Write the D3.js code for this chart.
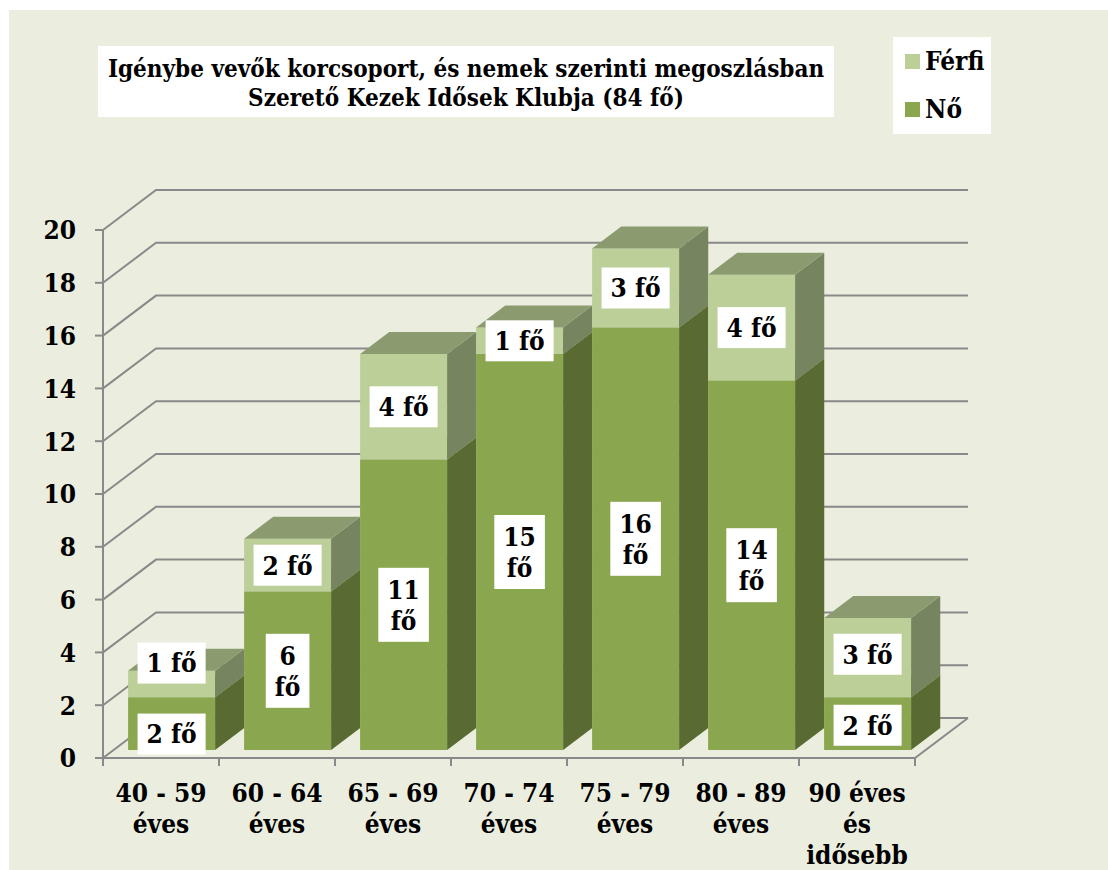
<!DOCTYPE html>
<html>
<head>
<meta charset="utf-8">
<script src="https://cdn.jsdelivr.net/npm/d3@7"></script>
<style>
  body { margin: 0; background: #fff; }
  text { font-family: "DejaVu Serif Condensed", "DejaVu Serif", serif; font-stretch: condensed; font-weight: bold; fill: #000; }
</style>
</head>
<body>
<script>
// values
var categories = ["40 - 59 éves", "60 - 64 éves", "65 - 69 éves", "70 - 74 éves", "75 - 79 éves", "80 - 89 éves", "90 éves és idősebb"];
var categoryLines = [["40 - 59", "éves"], ["60 - 64", "éves"], ["65 - 69", "éves"], ["70 - 74", "éves"], ["75 - 79", "éves"], ["80 - 89", "éves"], ["90 éves", "és", "idősebb"]];
var noValues = [2, 6, 11, 15, 16, 14, 2];
var ferfiValues = [1, 2, 4, 1, 3, 4, 3];
var yTicks = [0, 2, 4, 6, 8, 10, 12, 14, 16, 18, 20];
var seriesNames = ["Férfi", "Nő"];
var titleLines = ["Igénybe vevők korcsoport, és nemek szerinti megoszlásban", "Szerető Kezek Idősek Klubja (84 fő)"];

var width = 1108, height = 870;
var depthX = 53, depthY = -40;       // wall depth offset
var barFront = 0.2, barBack = 0.75;  // where bars sit inside the depth

var colors = {
  no:    { front: "#8aa64e", side: "#596b33", top: "#7f9a48" },
  ferfi: { front: "#bccf98", side: "#768560", top: "#8c9a70" }
};

var svg = d3.select("body").append("svg")
    .attr("width", width)
    .attr("height", height);

svg.append("rect")
    .attr("x", 9).attr("y", 10)
    .attr("width", width - 9).attr("height", height - 10)
    .attr("fill", "#ebeedf");

var x = d3.scaleBand().domain(categories).range([103, 915]).padding(0);
var y = d3.scaleLinear().domain([0, 20]).range([758, 230]);
var barW = x.bandwidth() * 0.75;

function proj(px, v, d) {
  return [px + depthX * d, y(v) + depthY * d];
}

var g = svg.append("g");

// walls / gridlines
var x0 = x.range()[0], x1 = x.range()[1];
g.selectAll(".grid")
    .data(yTicks)
  .enter().append("path")
    .attr("class", "grid")
    .attr("fill", "none")
    .attr("stroke", "#898989")
    .attr("stroke-width", 2)
    .attr("d", function(v) {
      var a = proj(x0, v, 0), b = proj(x0, v, 1), c = proj(x1, v, 1);
      return "M" + a + "L" + b + "L" + c;
    });

// floor: front edge and right edge
g.append("path")
    .attr("fill", "none")
    .attr("stroke", "#898989")
    .attr("stroke-width", 2)
    .attr("d", "M" + proj(x0, 0, 0) + "L" + proj(x1, 0, 0) + "L" + proj(x1, 0, 1));

// y axis
g.append("line")
    .attr("x1", x0).attr("x2", x0)
    .attr("y1", y(20)).attr("y2", y(0) + 8)
    .attr("stroke", "#898989").attr("stroke-width", 2);

g.selectAll(".ytick")
    .data(yTicks)
  .enter().append("line")
    .attr("x1", x0 - 8).attr("x2", x0)
    .attr("y1", function(v) { return y(v); })
    .attr("y2", function(v) { return y(v); })
    .attr("stroke", "#898989").attr("stroke-width", 2);

g.selectAll(".ylabel")
    .data(yTicks)
  .enter().append("text")
    .attr("x", 76)
    .attr("y", function(v) { return y(v); })
    .attr("dy", "0.36em")
    .attr("text-anchor", "end")
    .style("font-size", "26px")
    .text(function(v) { return v; });

// x ticks
g.selectAll(".xtick")
    .data(categories.concat(["end"]))
  .enter().append("line")
    .attr("x1", function(d, i) { return x0 + i * x.step(); })
    .attr("x2", function(d, i) { return x0 + i * x.step(); })
    .attr("y1", y(0)).attr("y2", y(0) + 8)
    .attr("stroke", "#898989").attr("stroke-width", 2);

var xl = g.selectAll(".xlabel")
    .data(categories)
  .enter().append("text")
    .attr("text-anchor", "middle")
    .style("font-size", "26px")
    .attr("transform", function(d) { return "translate(" + (x(d) + x.bandwidth() / 2) + ",802)"; });
xl.selectAll("tspan")
    .data(function(d, i) { return categoryLines[i]; })
  .enter().append("tspan")
    .attr("x", 0)
    .attr("y", function(d, i) { return i * 31; })
    .text(function(d) { return d; });

// bars
function box(px, w, v0, v1, c) {
  var f0 = proj(px, v0, barFront), f1 = proj(px + w, v0, barFront),
      f2 = proj(px + w, v1, barFront), f3 = proj(px, v1, barFront),
      b1 = proj(px + w, v0, barBack), b2 = proj(px + w, v1, barBack),
      b3 = proj(px, v1, barBack);
  var bg = g.append("g");
  bg.append("path").attr("fill", c.front).attr("d", "M" + [f0, f1, f2, f3].join("L") + "Z");
  bg.append("path").attr("fill", c.side).attr("d", "M" + [f1, b1, b2, f2].join("L") + "Z");
  bg.append("path").attr("fill", c.top).attr("d", "M" + [f3, f2, b2, b3].join("L") + "Z");
}

var labels = [];
categories.forEach(function(cat, i) {
  var px = x(cat) + (x.bandwidth() - barW) / 2;
  var n = noValues[i], f = ferfiValues[i];
  box(px, barW, 0, n, colors.no);
  box(px, barW, n, n + f, colors.ferfi);
  var cx = px + barW / 2 + depthX * barFront;
  labels.push({ cx: cx, cy: (y(0) + y(n)) / 2 + depthY * barFront, v: n, h: y(0) - y(n), bar: i, s: "no" });
  labels.push({ cx: cx, cy: (y(n) + y(n + f)) / 2 + depthY * barFront, v: f, h: y(n) - y(n + f), bar: i, s: "ferfi" });
});

// label sizes
labels.forEach(function(l) {
  l.lines = l.h > 120 ? [l.v, "fő"] : [l.v + " fő"];
  l.bh = l.lines.length === 1 ? 41 : 74;
});

// push apart labels of the same bar that come too close
d3.range(categories.length).forEach(function(i) {
  var a = labels[i * 2], b = labels[i * 2 + 1];
  var gap = (a.cy - a.bh / 2) - (b.cy + b.bh / 2);
  if (gap < 30) {
    var need = 30 - gap;
    b.cy -= need * 2 / 3;
    a.cy += need / 3;
  }
});

labels.forEach(function(l) {
  var lg = g.append("g").attr("transform", "translate(" + l.cx + "," + l.cy + ")");
  var rect = lg.append("rect").attr("fill", "#fff");
  var t = lg.append("text").attr("text-anchor", "middle").style("font-size", "26px");
  var lh = 31;
  t.selectAll("tspan")
      .data(l.lines)
    .enter().append("tspan")
      .attr("x", 0)
      .attr("y", function(d, k) { return (k - (l.lines.length - 1) / 2) * lh; })
      .attr("dy", "0.36em")
      .text(function(d) { return d; });
  var w = d3.max(t.selectAll("tspan").nodes(), function(n) { return n.getComputedTextLength(); }) + 18;
  rect.attr("x", -w / 2).attr("y", -l.bh / 2).attr("width", w).attr("height", l.bh);
});

// title
svg.append("rect")
    .attr("x", 98).attr("y", 46).attr("width", 736).attr("height", 71)
    .attr("fill", "#fff");
svg.append("text")
    .attr("text-anchor", "middle")
    .style("font-size", "24px")
  .selectAll("tspan")
    .data(titleLines)
  .enter().append("tspan")
    .attr("x", 466)
    .attr("y", function(d, i) { return 77 + i * 29; })
    .text(function(d) { return d; });

// legend
var legend = svg.append("g");
legend.append("rect")
    .attr("x", 893).attr("y", 37).attr("width", 98).attr("height", 97)
    .attr("fill", "#fff");
var li = legend.selectAll(".li")
    .data(seriesNames)
  .enter().append("g")
    .attr("transform", function(d, i) { return "translate(905," + (54 + i * 48) + ")"; });
li.append("rect")
    .attr("width", 15).attr("height", 15)
    .attr("fill", function(d) { return d === "Férfi" ? colors.ferfi.front : colors.no.front; });
li.append("text")
    .attr("x", 20).attr("y", 16)
    .style("font-size", "26px")
    .text(function(d) { return d; });
</script>
</body>
</html>
